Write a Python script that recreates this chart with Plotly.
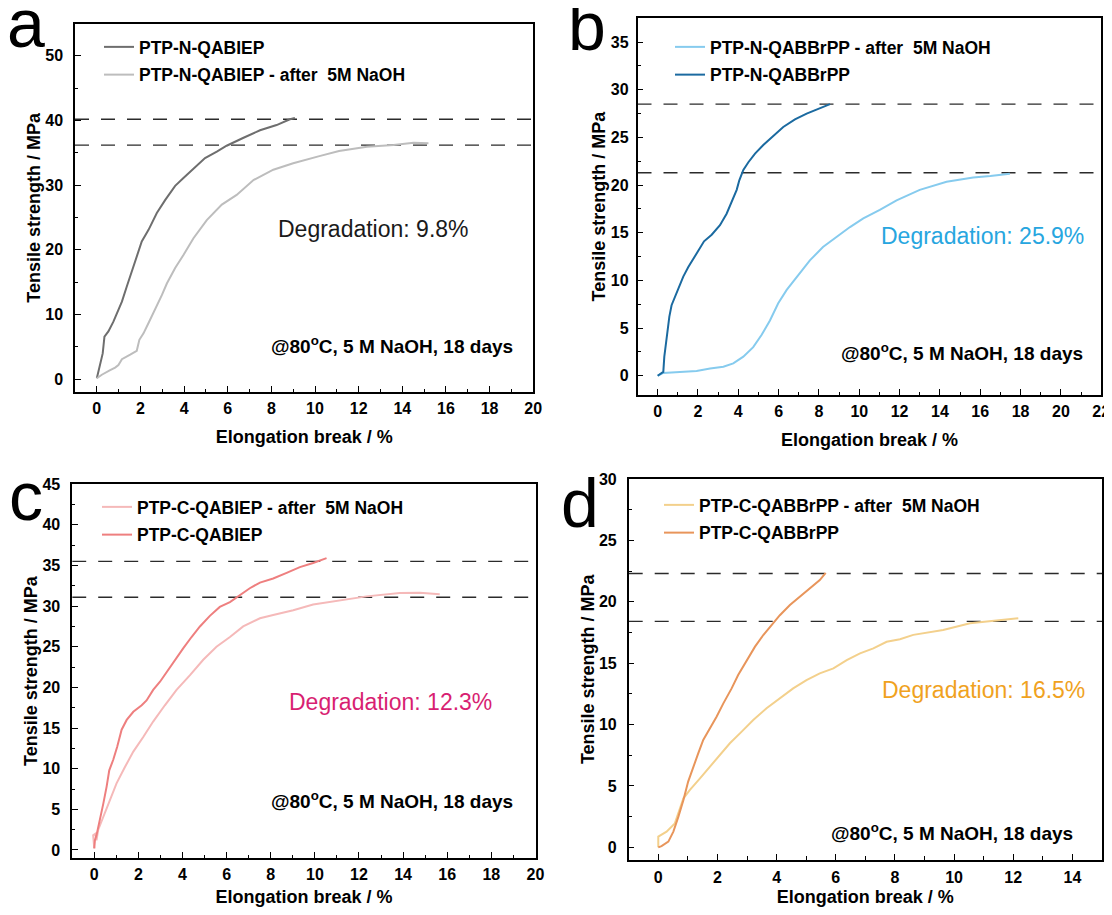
import plotly.graph_objects as go

PAGE_W, PAGE_H = 1112, 915
OFF = 8                      # default body margin of the html page
W, H = PAGE_W - 2 * OFF, PAGE_H - 2 * OFF
FONT = "Liberation Sans, Arial, sans-serif"

# ---------------- data ----------------
# panel a
a_x_fresh = [0, 0.12, 0.27, 0.35, 0.53, 0.76, 0.92, 1.15, 1.37, 1.6, 1.83, 2.06, 2.37, 2.75, 3.13, 3.59, 3.97,
             4.43, 4.96, 5.5, 5.95, 6.7, 7.48, 8.24, 8.85, 9.08]
a_y_fresh = [0.15, 2, 4, 6.6, 7.4, 8.9, 10.2, 12, 14.3, 16.6, 19.2, 21.3, 23.1, 25.7, 27.7, 29.9, 31.1,
             32.6, 34.2, 35.2, 36.1, 37.3, 38.5, 39.3, 40.2, 40.4]
a_x_aged = [0, 0.23, 0.61, 0.84, 0.99, 1.15, 1.53, 1.83, 1.95, 2.14, 2.37, 2.67, 2.98, 3.21, 3.59, 3.97, 4.43,
            5.04, 5.73, 6.41, 7.18, 8.09, 9.0, 10.2, 11.1, 12.38, 13.6, 14.52, 15.2]
a_y_aged = [0.15, 0.7, 1.4, 1.8, 2.2, 3.1, 3.8, 4.4, 6.1, 7.1, 8.7, 10.7, 13.0, 14.8, 17.2, 19.2, 21.8,
            24.6, 27.0, 28.5, 30.8, 32.4, 33.4, 34.5, 35.3, 35.95, 36.2, 36.57, 36.5]
a_levels = [40.2, 36.2]

# panel b
b_x_fresh = [0, 0.2, 0.28, 0.33, 0.41, 0.5, 0.58, 0.69, 0.86, 1.07, 1.27, 1.52, 1.77, 2.02, 2.3, 2.68, 3.09,
             3.42, 3.75, 3.92, 4.05, 4.25, 4.5, 4.83, 5.24, 5.74, 6.23, 6.81, 7.39, 7.97, 8.55]
b_y_fresh = [0, 0.25, 0.4, 2, 3.4, 4.8, 6.2, 7.4, 8.3, 9.2, 10.4, 11.4, 12.3, 13.2, 14.1, 14.8, 15.8,
             17.0, 18.6, 19.5, 20.5, 21.6, 22.4, 23.3, 24.2, 25.2, 26.1, 26.9, 27.5, 28.0, 28.5]
b_x_aged = [0, 0.28, 1.1, 1.93, 2.6, 3.26, 3.75, 4.25, 4.74, 5.16, 5.57, 5.98, 6.4, 6.9, 7.55, 8.2, 8.88,
            9.54, 10.2, 11.02, 11.85, 12.5, 13.0, 14.33, 15.65, 16.5, 17.47]
b_y_aged = [0, 0.3, 0.4, 0.5, 0.77, 0.94, 1.3, 2.0, 3.0, 4.3, 5.8, 7.6, 9.0, 10.4, 12.1, 13.5, 14.6,
            15.6, 16.5, 17.4, 18.4, 19.0, 19.5, 20.36, 20.8, 20.95, 21.2]
b_levels = [28.5, 21.3]

# panel c
c_x_fresh = [0, 0.03, 0.1, 0.26, 0.41, 0.56, 0.68, 0.86, 1.04, 1.24, 1.47, 1.77, 2.15, 2.37, 2.67, 2.98, 3.28,
             3.66, 4.03, 4.41, 4.79, 5.24, 5.69, 6.15, 6.6, 7.05, 7.51, 8.11, 8.72, 9.32, 9.92, 10.53]
c_y_fresh = [0.2, 1.2, 1.8, 3.7, 5.7, 7.8, 9.8, 11.1, 12.7, 14.8, 16.0, 17.0, 17.8, 18.4, 19.7, 20.7, 21.9,
             23.4, 24.8, 26.2, 27.5, 28.8, 29.9, 30.5, 31.4, 32.2, 32.9, 33.4, 34.1, 34.8, 35.3, 35.9]
c_x_aged = [0, -0.05, 0.05, 0.1, 0.18, 0.41, 0.71, 1.01, 1.39, 1.77, 2.22, 2.67, 3.2, 3.73, 4.34, 4.94, 5.54,
            6.15, 6.75, 7.51, 8.11, 9.02, 9.92, 10.83, 12.34, 13.85, 14.76, 15.66]
c_y_aged = [0.2, 1.8, 2.0, 1.2, 2.5, 4.1, 6.1, 8.2, 10.2, 12.1, 13.9, 15.8, 17.8, 19.7, 21.5, 23.4, 25.0,
            26.2, 27.5, 28.5, 28.9, 29.5, 30.2, 30.6, 31.2, 31.6, 31.65, 31.45]
c_levels = [35.5, 31.1]

# panel d
d_x_fresh = [0, 0.11, 0.34, 0.51, 0.68, 0.85, 1.01, 1.18, 1.35, 1.52, 1.75, 1.97, 2.2, 2.48, 2.7, 2.99, 3.27,
             3.55, 3.83, 4.11, 4.45, 4.79, 5.13, 5.46, 5.66]
d_y_fresh = [0, 0.1, 0.46, 1.28, 2.5, 3.85, 5.35, 6.57, 7.65, 8.74, 9.69, 10.64, 11.72, 12.94, 14.03, 15.25,
             16.34, 17.29, 18.1, 18.9, 19.73, 20.4, 21.1, 21.76, 22.35]
d_x_aged = [0, 0, 0.28, 0.56, 0.85, 1.07, 1.41, 1.75, 2.08, 2.42, 2.82, 3.21, 3.66, 4.11, 4.56, 5.01, 5.46,
            5.92, 6.37, 6.82, 7.27, 7.72, 8.17, 8.62, 9.63, 10.54, 11.33, 12.17]
d_y_aged = [0, 0.87, 1.28, 1.95, 3.99, 4.67, 5.62, 6.57, 7.52, 8.47, 9.42, 10.37, 11.32, 12.13, 12.94, 13.62,
            14.17, 14.57, 15.25, 15.79, 16.2, 16.74, 16.95, 17.3, 17.7, 18.24, 18.45, 18.65]
d_levels = [22.3, 18.4]

panel_letters = ["a", "b", "c", "d"]
degradation = ["Degradation: 9.8%", "Degradation: 25.9%", "Degradation: 12.3%", "Degradation: 16.5%"]
condition = "@80<sup>o</sup>C, 5 M NaOH, 18 days"
x_title = "Elongation break / %"
y_title = "Tensile strength / MPa"


# ---------------- figure ----------------
def px2x(p):
    return (p - OFF) / W


def px2y(p):
    return 1 - (p - OFF) / H


fig = go.Figure()

panels = [
    dict(ax="", rx=[-1, 20.01], ry=[-2, 55], xd=(75, 533.4), yd=(23.5, 392.2), dy=10, my=5,
         xls=1, yls=7, xts=14,
         traces=[("PTP-N-QABIEP", a_x_fresh, a_y_fresh, "#6e6e6e"),
                 ("PTP-N-QABIEP - after  5M NaOH", a_x_aged, a_y_aged, "#bdbdbd")],
         levels=a_levels, leg=(99, 29), deg=(373, 229, "#1a1a1a"), cond=(392, 345)),
    dict(ax="2", rx=[-1, 22.01], ry=[-2, 37.5], xd=(637.5, 1101.4), yd=(18.3, 394.8), dy=5, my=2.5,
         xls=1, yls=4, xts=15,
         traces=[("PTP-N-QABBrPP - after  5M NaOH", b_x_aged, b_y_aged, "#86cbee"),
                 ("PTP-N-QABBrPP", b_x_fresh, b_y_fresh, "#1b6aa0")],
         levels=b_levels, leg=(670, 29), deg=(982, 236, "#27a6df"), cond=(962, 352)),
    dict(ax="3", rx=[-1, 20.01], ry=[-1, 45], xd=(72.2, 535.7), yd=(484.2, 858.1), dy=5, my=2.5,
         xls=1, yls=7, xts=21,
         traces=[("PTP-C-QABIEP - after  5M NaOH", c_x_aged, c_y_aged, "#f5b9b9"),
                 ("PTP-C-QABIEP", c_x_fresh, c_y_fresh, "#ee7f7f")],
         levels=c_levels, leg=(97, 489), deg=(390, 702, "#d81f72"), cond=(392, 800)),
    dict(ax="4", rx=[-1, 15], ry=[-1, 30], xd=(628.7, 1102), yd=(478.9, 859.6), dy=5, my=2.5,
         xls=2, yls=7, xts=21,
         traces=[("PTP-C-QABBrPP - after  5M NaOH", d_x_aged, d_y_aged, "#f3d08c"),
                 ("PTP-C-QABBrPP", d_x_fresh, d_y_fresh, "#e8955b")],
         levels=d_levels, leg=(659, 487), deg=(983, 690, "#f0a21e"), cond=(952, 832)),
]

# (left, baseline) of the panel letters in page pixels
letter_pos = [(7, 46), (568, 49), (9, 519), (561, 526)]
LETTER_SIZE = 68

tickfont = dict(family=FONT, size=16, color="black", weight="bold")
titlefont = dict(family=FONT, size=18, color="black", weight="bold")

annotations = []
for i, p in enumerate(panels):
    xa = "x" + p["ax"]
    ya = "y" + p["ax"]
    legname = "legend" + ("" if i == 0 else str(i + 1))
    for lv in p["levels"]:
        fig.add_trace(go.Scatter(x=[p["rx"][0], p["rx"][1]], y=[lv, lv], mode="lines",
                                 line=dict(color="#2b2b2b", width=1.4, dash="14px,12px"),
                                 xaxis=xa, yaxis=ya, showlegend=False, hoverinfo="skip"))
    for k, (nm, xs, ys, col) in enumerate(p["traces"]):
        fig.add_trace(go.Scatter(x=xs, y=ys, mode="lines", name=nm,
                                 line=dict(color=col, width=2),
                                 xaxis=xa, yaxis=ya, legend=legname,
                                 legendgroup=f"g{i}{k}"))
    xkey = "xaxis" + p["ax"]
    ykey = "yaxis" + p["ax"]
    common = dict(showline=True, linecolor="black", linewidth=1.5, mirror=True,
                  showgrid=False, zeroline=False, ticks="inside", ticklen=6, tickwidth=1.3,
                  tickcolor="black", tickfont=tickfont, automargin=False, ticklabeloverflow="allow")
    fig.update_layout({
        xkey: dict(common, domain=[px2x(p["xd"][0]), px2x(p["xd"][1])], range=p["rx"],
                   anchor=ya, tick0=0, dtick=2, ticklabelstandoff=p["xls"],
                   minor=dict(ticks="inside", ticklen=3.5, tickwidth=1.2, dtick=1, tick0=0, tickcolor="black"),
                   title=dict(text=x_title, font=titlefont, standoff=p["xts"])),
        ykey: dict(common, domain=[px2y(p["yd"][1]), px2y(p["yd"][0])], range=p["ry"],
                   anchor=xa, tick0=0, dtick=p["dy"], ticklabelstandoff=p["yls"],
                   minor=dict(ticks="inside", ticklen=3.5, tickwidth=1.2, dtick=p["my"], tick0=0, tickcolor="black"),
                   title=dict(text=y_title, font=titlefont, standoff=0)),
        legname: dict(x=px2x(p["leg"][0]), y=px2y(p["leg"][1]), xanchor="left", yanchor="top",
                      bgcolor="rgba(0,0,0,0)", font=dict(family=FONT, size=17.5, color="black", weight="bold"),
                      traceorder="grouped", tracegroupgap=2, itemwidth=30),
    })
    annotations.append(dict(text=degradation[i], x=px2x(p["deg"][0]), y=px2y(p["deg"][1]),
                            xref="paper", yref="paper", showarrow=False, xanchor="center", yanchor="middle",
                            font=dict(family=FONT, size=23, color=p["deg"][2])))
    annotations.append(dict(text=condition, x=px2x(p["cond"][0]), y=px2y(p["cond"][1]),
                            xref="paper", yref="paper", showarrow=False, xanchor="center", yanchor="middle",
                            font=dict(family=FONT, size=19, color="black", weight="bold")))
    lx, lb = letter_pos[i]
    annotations.append(dict(text=panel_letters[i], x=px2x(lx - 2),
                            y=px2y(lb - 0.92 * LETTER_SIZE),
                            xref="paper", yref="paper", showarrow=False, xanchor="left", yanchor="top",
                            font=dict(family=FONT, size=LETTER_SIZE, color="black")))

fig.update_layout(width=W, height=H, autosize=False, margin=dict(l=0, r=0, t=0, b=0),
                  paper_bgcolor="white", plot_bgcolor="white", annotations=annotations,
                  showlegend=True)

fig.write_html("out.html")
